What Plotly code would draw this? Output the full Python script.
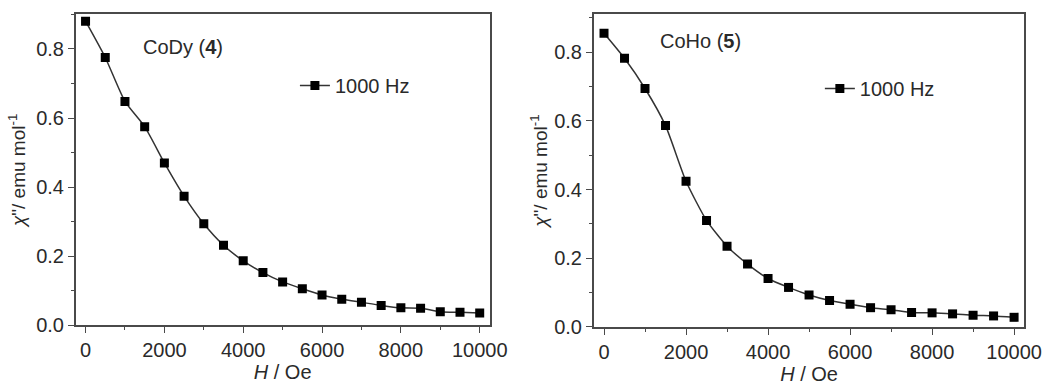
import plotly.graph_objects as go

field_oe = [0, 500, 1000, 1500, 2000, 2500, 3000, 3500, 4000, 4500, 5000,
            5500, 6000, 6500, 7000, 7500, 8000, 8500, 9000, 9500, 10000]
chi_cody = [0.880, 0.775, 0.648, 0.575, 0.470, 0.374, 0.294, 0.232, 0.187, 0.153, 0.126,
            0.106, 0.088, 0.076, 0.067, 0.058, 0.051, 0.050, 0.040, 0.038, 0.036]
chi_coho = [0.855, 0.782, 0.694, 0.586, 0.424, 0.310, 0.235, 0.183, 0.141, 0.115, 0.093,
            0.077, 0.066, 0.056, 0.050, 0.042, 0.041, 0.038, 0.034, 0.032, 0.028]
x_tickvals = [0, 2000, 4000, 6000, 8000, 10000]
x_ticktext = ["0", "2000", "4000", "6000", "8000", "10000"]
y_tickvals = [0.0, 0.2, 0.4, 0.6, 0.8]
y_ticktext = ["0.0", "0.2", "0.4", "0.6", "0.8"]
series_name = "1000 Hz"
panel_labels = ["CoDy (<b>4</b>)", "CoHo (<b>5</b>)"]
x_title = "<i>H</i> / Oe"
y_title = "<i>χ</i>\"/ emu mol<sup>-1</sup>"

W, H = 1062, 387
FONT = "Liberation Sans, Arial, sans-serif"
TXT = "#2a2a2a"
AX = "#4a4a4a"

def px(x):
    return x / W

def py(y):
    return 1 - y / H

fig = go.Figure()
fig.add_trace(go.Scatter(x=field_oe, y=chi_cody, mode="lines+markers", name=series_name,
                         line=dict(color="#333333", width=1.5, shape="spline", smoothing=0.6),
                         marker=dict(symbol="square", size=9, color="black"),
                         xaxis="x", yaxis="y", legend="legend", showlegend=True))
fig.add_trace(go.Scatter(x=field_oe, y=chi_coho, mode="lines+markers", name=series_name,
                         line=dict(color="#333333", width=1.5, shape="spline", smoothing=0.6),
                         marker=dict(symbol="square", size=9, color="black"),
                         xaxis="x2", yaxis="y2", legend="legend2", showlegend=True))

def xax(domain, anchor, rng):
    return dict(domain=domain, anchor=anchor, range=rng, showgrid=False, zeroline=False,
                showline=True, linecolor=AX, linewidth=1.5, mirror=True,
                ticks="outside", ticklen=6, tickwidth=1.3, tickcolor=AX,
                tickmode="array", tickvals=x_tickvals, ticktext=x_ticktext,
                minor=dict(ticks="outside", ticklen=3, tickwidth=1.2, tickcolor=AX, dtick=1000, tick0=0),
                tickfont=dict(family=FONT, size=20, color=TXT),
                title=dict(text=x_title, font=dict(family=FONT, size=20, color=TXT), standoff=0))

def yax(domain, anchor, rng, standoff):
    return dict(domain=domain, anchor=anchor, range=rng, showgrid=False, zeroline=False,
                showline=True, linecolor=AX, linewidth=1.5, mirror=True,
                ticks="outside", ticklen=6, tickwidth=1.3, tickcolor=AX,
                tickmode="array", tickvals=y_tickvals, ticktext=y_ticktext,
                minor=dict(ticks="outside", ticklen=3, tickwidth=1.2, tickcolor=AX, dtick=0.1, tick0=0),
                tickfont=dict(family=FONT, size=20, color=TXT),
                title=dict(text=y_title, font=dict(family=FONT, size=19, color=TXT), standoff=standoff))

fig.update_layout(
    width=W, height=H, margin=dict(l=0, r=0, t=0, b=0),
    paper_bgcolor="white", plot_bgcolor="white", showlegend=True,
    xaxis=xax([px(77), px(498)], "y", [-250, 10250]),
    yaxis=yax([py(335), py(14.7)], "x", [0, 0.9], 5),
    xaxis2=xax([px(604), px(1042)], "y2", [-250, 10250]),
    yaxis2=yax([py(336.5), py(14.7)], "x2", [0, 0.91], 2),
    legend=dict(x=px(300), y=py(88), xanchor="left", yanchor="middle", bgcolor="rgba(0,0,0,0)",
                font=dict(family=FONT, size=20, color=TXT), itemwidth=30),
    legend2=dict(x=px(834), y=py(91), xanchor="left", yanchor="middle", bgcolor="rgba(0,0,0,0)",
                 font=dict(family=FONT, size=20, color=TXT), itemwidth=30),
    annotations=[
        dict(text=panel_labels[0], x=px(143), y=py(48), xref="paper", yref="paper",
             xanchor="left", yanchor="middle", showarrow=False,
             font=dict(family=FONT, size=20, color=TXT)),
        dict(text=panel_labels[1], x=px(669), y=py(41.7), xref="paper", yref="paper",
             xanchor="left", yanchor="middle", showarrow=False,
             font=dict(family=FONT, size=20, color=TXT)),
    ],
)

fig.write_html("out.html")
